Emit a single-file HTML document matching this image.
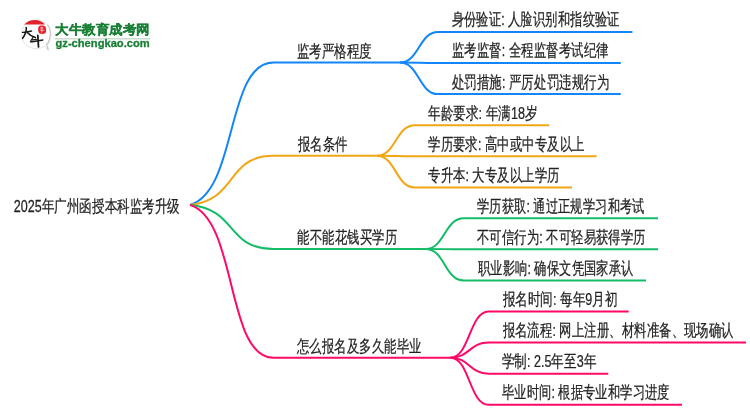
<!DOCTYPE html>
<html><head><meta charset="utf-8"><style>
html,body{margin:0;padding:0;background:#fff;width:750px;height:410px;overflow:hidden}
svg{display:block;will-change:transform}
</style></head><body>
<svg width="750" height="410" viewBox="0 0 750 410">
<g fill="none" stroke-width="2" stroke-linecap="butt">
<path d="M190.0,204.9 C237.82,191.09 225.63,62.56 273.45,62.56 L400,62.56" stroke="#1385fa"/>
<path d="M400.00,62.56 C419.00,62.56 419.00,31.91 438.00,31.91 L632.40,31.91" stroke="#1385fa"/>
<path d="M400.00,62.56 C419.00,62.56 419.00,63.01 438.00,63.01 L620.80,63.01" stroke="#1385fa"/>
<path d="M400.00,62.56 C419.00,62.56 419.00,94.11 438.00,94.11 L620.80,94.11" stroke="#1385fa"/>
<path d="M190.0,204.9 C237.82,200.14 225.63,155.85 273.45,155.85 L376.8,155.85" stroke="#f3a614"/>
<path d="M376.80,155.85 C395.80,155.85 395.80,125.20 414.80,125.20 L549.30,125.20" stroke="#f3a614"/>
<path d="M376.80,155.85 C395.80,155.85 395.80,156.30 414.80,156.30 L596.50,156.30" stroke="#f3a614"/>
<path d="M376.80,155.85 C395.80,155.85 395.80,187.40 414.80,187.40 L572.00,187.40" stroke="#f3a614"/>
<path d="M190.0,204.9 C237.82,209.17 225.63,248.9 273.45,248.9 L425.7,248.9" stroke="#14bc68"/>
<path d="M425.70,248.90 C444.70,248.90 444.70,218.25 463.70,218.25 L658.00,218.25" stroke="#14bc68"/>
<path d="M425.70,248.90 C444.70,248.90 444.70,249.35 463.70,249.35 L658.00,249.35" stroke="#14bc68"/>
<path d="M425.70,248.90 C444.70,248.90 444.70,280.45 463.70,280.45 L646.00,280.45" stroke="#14bc68"/>
<path d="M190.0,204.9 C237.82,219.72 225.63,357.7 273.45,357.7 L450.5,357.7" stroke="#ff0868"/>
<path d="M450.50,357.70 C469.50,357.70 469.50,311.50 488.50,311.50 L628.70,311.50" stroke="#ff0868"/>
<path d="M450.50,357.70 C469.50,357.70 469.50,342.60 488.50,342.60 L746.00,342.60" stroke="#ff0868"/>
<path d="M450.50,357.70 C469.50,357.70 469.50,373.70 488.50,373.70 L608.30,373.70" stroke="#ff0868"/>
<path d="M450.50,357.70 C469.50,357.70 469.50,404.80 488.50,404.80 L682.00,404.80" stroke="#ff0868"/>
</g>
<g font-family="'Liberation Sans', sans-serif" fill="#222" stroke="#222" stroke-width="0.25">
<text transform="translate(13.76,212.00) scale(0.7367229516452327,1)" font-size="17">2025年广州函授本科监考升级</text>
<text transform="translate(296.57,56.56) scale(0.7339797151205252,1)" font-size="17">监考严格程度</text>
<text transform="translate(451.68,25.31) scale(0.7208070126050424,1)" font-size="17">身份验证: 人脸识别和指纹验证</text>
<text transform="translate(451.67,56.41) scale(0.7301377217050466,1)" font-size="17">监考监督: 全程监督考试纪律</text>
<text transform="translate(451.67,87.51) scale(0.7348180917159763,1)" font-size="17">处罚措施: 严厉处罚违规行为</text>
<text transform="translate(298.00,149.85) scale(0.7261708897959187,1)" font-size="17">报名条件</text>
<text transform="translate(428.06,118.60) scale(0.7416088985937634,1)" font-size="17">年龄要求: 年满18岁</text>
<text transform="translate(428.07,149.70) scale(0.726375906398824,1)" font-size="17">学历要求: 高中或中专及以上</text>
<text transform="translate(428.07,180.80) scale(0.7277332070506596,1)" font-size="17">专升本: 大专及以上学历</text>
<text transform="translate(297.48,242.90) scale(0.7246983,1)" font-size="17">能不能花钱买学历</text>
<text transform="translate(476.98,211.65) scale(0.7190887605042021,1)" font-size="17">学历获取: 通过正规学习和考试</text>
<text transform="translate(476.97,242.75) scale(0.7259740714285714,1)" font-size="17">不可信行为: 不可轻易获得学历</text>
<text transform="translate(477.70,273.85) scale(0.7226751592356693,1)" font-size="17">职业影响: 确保文凭国家承认</text>
<text transform="translate(297.00,351.70) scale(0.7249732722580644,1)" font-size="17">怎么报名及多久能毕业</text>
<text transform="translate(502.50,304.90) scale(0.7411523135271814,1)" font-size="17">报名时间: 每年9月初</text>
<text transform="translate(502.50,336.00) scale(0.7269529534258847,1)" font-size="17">报名流程: 网上注册、材料准备、现场确认</text>
<text transform="translate(501.76,367.10) scale(0.7398921262573708,1)" font-size="17">学制: 2.5年至3年</text>
<text transform="translate(501.78,398.20) scale(0.7208070126050424,1)" font-size="17">毕业时间: 根据专业和学习进度</text>
</g>
<g id="logo">
<path d="M47.6,45.2 C51.2,40.5 52,33.5 49.2,27.8 C46.5,22.5 41.5,19.8 36,19.8 C27.5,19.8 21.6,26.6 21.6,34.5 C21.6,42.6 28,48.6 36,48.6 C39.5,48.6 42.3,47.6 44.6,46.2 L48.4,50.6 Z" fill="#fff" stroke="#e2e2e2" stroke-width="0.9"/>
<path d="M47.5,24.5 C50.5,28.5 51,34 49.5,39 C48.8,41.5 47.8,43.3 46.6,44.6 L48.3,50.2" fill="none" stroke="#c4c4c4" stroke-width="1.1"/>
<path d="M24.2,24.6 C27,21.3 31,19.9 35,19.9 C39,19.9 42.5,21.5 45,24.4 Z" fill="#e3222b"/>
<path d="M38.6,26.5 C39.5,25.2 43.5,24.9 45.2,26.3 C46.4,28.2 46.3,31.8 45.4,33.3 C43.8,34.3 40.2,34.2 39,33.1 C38,31.3 37.9,28.2 38.6,26.5 Z" fill="#e3222b"/>
<path d="M40,28 h3.5 M40.2,30.3 h4 M41.8,26.8 v5.6" stroke="#fff" stroke-width="0.8" fill="none" opacity="0.8"/>
<g fill="none" stroke="#1a1a1a" stroke-linecap="round">
<path d="M26.2,27.6 C26.6,30 25.6,34 22.6,38.3" stroke-width="1.6"/>
<path d="M22.5,32.4 C25.5,32.2 28.5,31.5 31.5,31" stroke-width="1.4"/>
<path d="M27.4,32.5 C29.5,35 31.5,36.5 35.3,37.6" stroke-width="1.6"/>
<path d="M33.4,36.5 C32.8,37.8 32,39 31.2,40.1 C33,39.9 34.8,39.6 36.4,39.4" stroke-width="1.2"/>
<path d="M30.6,41.8 C34,41.4 38.5,40.6 42.8,39.9" stroke-width="1.5"/>
<path d="M37.8,35.4 C38,39.5 38.3,43 38.5,46.9" stroke-width="1.8"/>
</g>
<text x="55.2" y="34" font-size="12.8" font-weight="bold" fill="#1a7f36" stroke="#1a7f36" stroke-width="0.3" font-family="'Liberation Sans', sans-serif" textLength="94.5" lengthAdjust="spacingAndGlyphs">大牛教育成考网</text>
<rect x="54.6" y="38.1" width="95.8" height="1.4" fill="#c6dacb"/>
<text x="55.5" y="47.3" font-size="10.6" font-weight="bold" fill="#1a7f36" stroke="#1a7f36" stroke-width="0.3" font-family="'Liberation Sans', sans-serif" textLength="94.2" lengthAdjust="spacingAndGlyphs">gz-chengkao.com</text>
</g>

</svg>
</body></html>
